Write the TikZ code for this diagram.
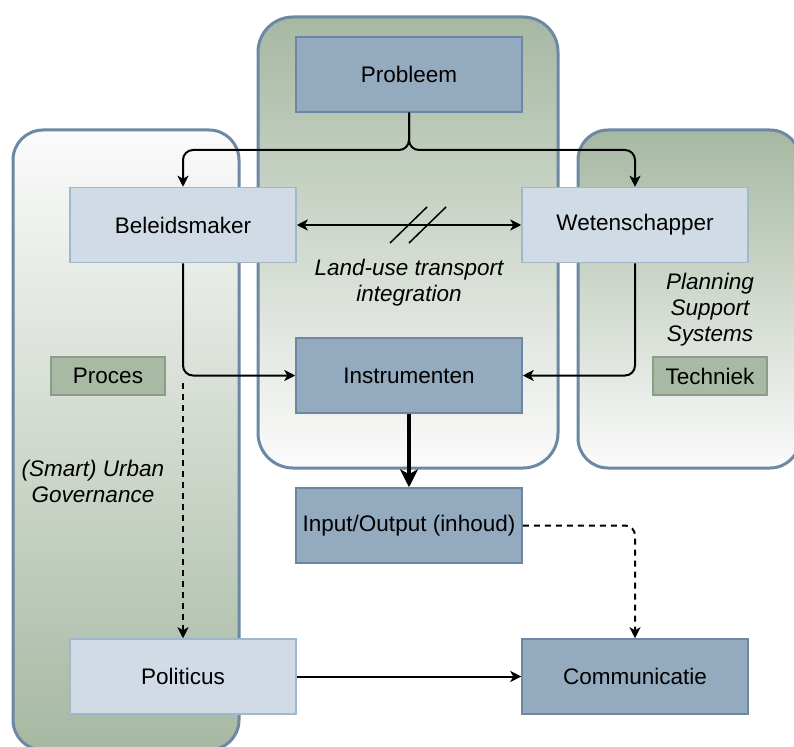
\documentclass[tikz,border=0pt]{standalone}
\usepackage{fontspec}
\setmainfont{Liberation Sans}
\usetikzlibrary{arrows.meta}
\definecolor{cborder}{RGB}{108,136,163}
\definecolor{cgreen}{RGB}{166,184,162}
\definecolor{cwhite}{RGB}{251,251,251}
\definecolor{darkfill}{RGB}{148,170,190}
\definecolor{darkline}{RGB}{108,135,163}
\definecolor{lightfill}{RGB}{208,219,229}
\definecolor{lightline}{RGB}{161,183,204}
\definecolor{tagfill}{RGB}{168,185,164}
\definecolor{tagline}{RGB}{138,157,136}
\begin{document}
\begin{tikzpicture}[x=1pt,y=-1pt,
  every node/.style={font=\fontsize{22.5}{26}\selectfont, inner sep=0pt},
  container/.style={draw=cborder, line width=3pt},
  darkbox/.style={draw=darkline, fill=darkfill, line width=1.5pt, minimum width=226pt, minimum height=75pt},
  lightbox/.style={draw=lightline, fill=lightfill, line width=1.5pt, minimum width=226pt, minimum height=75pt},
  tagbox/.style={draw=tagline, fill=tagfill, line width=1.5pt, minimum width=114pt, minimum height=38pt},
  note/.style={font=\fontsize{22.5}{26}\selectfont\itshape, align=center},
  conn/.style={line width=2pt, rounded corners=10pt, -{Stealth[length=11pt,width=11pt,inset=3pt]}},
  dconn/.style={conn, dash pattern=on 6pt off 5pt},
  thick/.style={line width=4pt, -{Stealth[length=18pt,width=18pt,inset=5pt]}}
]
\useasboundingbox (0,0) rectangle (794,746);
% containers
\path[container, rounded corners=30pt, top color=cwhite, bottom color=cgreen] (13,130) rectangle (239,750);
\path[container, rounded corners=35pt, top color=cgreen, bottom color=cwhite] (258,17) rectangle (558,468);
\path[container, rounded corners=30pt, top color=cgreen, bottom color=cwhite] (578,130) rectangle (800,468);

% nodes
\node[darkbox] (prob) at (409,74.5) {Probleem};
\node[lightbox] (bel) at (183,225) {Beleidsmaker};
\node[lightbox] (wet) at (635,225) {Wetenschapper};
\node[darkbox] (ins) at (409,375.5) {Instrumenten};
\node[darkbox] (io) at (409,525.5) {Input/Output (inhoud)};
\node[lightbox] (pol) at (183,676.5) {Politicus};
\node[darkbox] (com) at (635,676.5) {Communicatie};
\node[tagbox] (proc) at (108,376) {Proces};
\node[tagbox] (tech) at (710,376) {Techniek};

\node[note] (lut) at (409,283) {Land-use transport\\integration};
\node[note] (pss) at (710,310) {Planning\\Support\\Systems};
\node[note] (sug) at (93,481) {(Smart) Urban\\Governance};

% connectors
\coordinate (split) at (409,150);
\draw[conn] (prob.south) -- (split) -| (bel.north);
\draw[conn] (prob.south) -- (split) -| (wet.north);
\draw[line width=2pt, {Stealth[length=11pt,width=11pt,inset=3pt]}-{Stealth[length=11pt,width=11pt,inset=3pt]}] (bel.east) -- (wet.west);
\coordinate (s1a) at (390,243); \coordinate (s1b) at (427,207);
\coordinate (s2a) at (409,243); \coordinate (s2b) at (446,207);
\draw[line width=1.5pt] (s1a) -- (s1b);
\draw[line width=1.5pt] (s2a) -- (s2b);
\draw[conn] (bel.south) |- (ins.west);
\draw[conn] (wet.south) |- (ins.east);
\coordinate (dstart) at (183,383);
\draw[dconn] (dstart) -- (pol.north);
\draw[thick] (ins.south) -- (io.north);
\draw[dconn] (io.east) -| (com.north);
\draw[conn] (pol.east) -- (com.west);
\end{tikzpicture}
\end{document}
